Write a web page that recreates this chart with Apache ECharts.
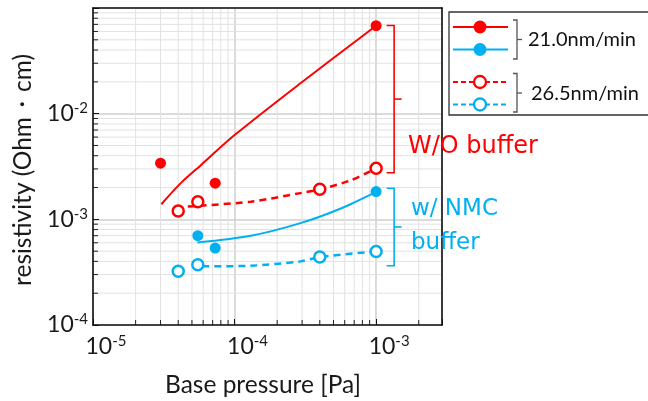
<!DOCTYPE html>
<html><head><meta charset="utf-8">
<script src="https://cdn.jsdelivr.net/npm/echarts@6/dist/echarts.min.js"></script>
<style>html,body{margin:0;padding:0;background:#fff}#c{width:648px;height:401px}</style>
</head><body><div id="c"></div>
<script>
// ---- tick labels / axis ranges ----
const xTicks = [1e-5, 1e-4, 1e-3];
const yTicks = [1e-4, 1e-3, 1e-2];
const xMinor = [2e-5,3e-5,4e-5,5e-5,6e-5,7e-5,8e-5,9e-5,2e-4,3e-4,4e-4,5e-4,6e-4,7e-4,8e-4,9e-4,2e-3];
const yMinor = [2e-4,3e-4,4e-4,5e-4,6e-4,7e-4,8e-4,9e-4,2e-3,3e-3,4e-3,5e-3,6e-3,7e-3,8e-3,9e-3,2e-2,3e-2,4e-2,5e-2,6e-2,7e-2,8e-2,9e-2];

// ---- measured points ----
const redFilledX  = [3.0e-5, 7.3e-5, 1.0e-3];
const redFilledY  = [3.4e-3, 2.2e-3, 6.8e-2];
const blueFilledX = [5.5e-5, 7.3e-5, 1.0e-3];
const blueFilledY = [7.0e-4, 5.35e-4, 1.83e-3];
const openX       = [4.0e-5, 5.5e-5, 4.0e-4, 1.0e-3];
const redOpenY    = [1.2e-3, 1.47e-3, 1.93e-3, 3.04e-3];
const blueOpenY   = [3.22e-4, 3.72e-4, 4.40e-4, 4.97e-4];

// ---- fitted curves ----
const redFitX  = [3.04e-5, 4.17e-5, 5.76e-5, 1.0e-4, 2.92e-4, 1.0e-3];
const redFitY  = [1.39e-3, 2.20e-3, 3.24e-3, 6.27e-3, 1.94e-2, 6.8e-2];
const redDashX = [4.67e-5, 1.30e-4, 2.92e-4, 4.0e-4, 6.56e-4, 1.0e-3];
const redDashY = [1.32e-3, 1.47e-3, 1.77e-3, 1.92e-3, 2.33e-3, 3.04e-3];
const blueFitX = [5.46e-5, 1.30e-4, 2.92e-4, 5.58e-4, 1.0e-3];
const blueFitY = [6.04e-4, 6.99e-4, 9.21e-4, 1.26e-3, 1.82e-3];
const blueDashX = [5.92e-5, 1.30e-4, 2.92e-4, 4.0e-4, 1.0e-3];
const blueDashY = [3.59e-4, 3.64e-4, 4.0e-4, 4.40e-4, 4.97e-4];

// ---- bracket ranges (data space) ----
const bracketX = 1.0e-3;
const redBracket  = [6.84e-2, 2.76e-3];
const blueBracket = [1.97e-3, 3.64e-4];

const RED = '#ff0000', BLUE = '#00b0f0';
const FONT = 'Lato';
const zip = (a, b) => a.map((v, i) => [v, b[i]]);

const chart = echarts.init(document.getElementById('c'), null, {renderer: 'canvas'});

function labelFmt(v) {
  const e = Math.round(Math.log10(v));
  return '{b|10}{s|' + e + '}';
}
const richLab = {
  b: {fontSize: 23, fontFamily: FONT, color: '#1a1a1a', lineHeight: 26},
  s: {fontSize: 15, fontFamily: FONT, color: '#1a1a1a', verticalAlign: 'top', lineHeight: 15}
};

function gridX(params, api) {
  const v = api.value(0);
  const p = api.coord([v, 1e-3]);
  const cs = params.coordSys;
  return {type: 'group', children: [
    {type: 'line', shape: {x1: p[0], y1: cs.y, x2: p[0], y2: cs.y + cs.height}, style: {stroke: '#e2e2e2', lineWidth: 1}},
    {type: 'line', shape: {x1: p[0], y1: cs.y + cs.height, x2: p[0], y2: cs.y + cs.height - 5}, style: {stroke: '#222', lineWidth: 1}}
  ]};
}
function gridY(params, api) {
  const v = api.value(1);
  const p = api.coord([1e-4, v]);
  const cs = params.coordSys;
  return {type: 'group', children: [
    {type: 'line', shape: {x1: cs.x, y1: p[1], x2: cs.x + cs.width, y2: p[1]}, style: {stroke: '#e2e2e2', lineWidth: 1}},
    {type: 'line', shape: {x1: cs.x, y1: p[1], x2: cs.x + 5, y2: p[1]}, style: {stroke: '#222', lineWidth: 1}}
  ]};
}
function bracket(color) {
  return function (params, api) {
    const top = api.coord([api.value(0), api.value(1)]);
    const bot = api.coord([api.value(0), api.value(2)]);
    const x = top[0] + 18;
    const mid = (top[1] + bot[1]) / 2;
    return {type: 'group', children: [
      {type: 'polyline', shape: {points: [[x - 7.5, top[1]], [x, top[1]], [x, bot[1]], [x - 7.5, bot[1]]]}, style: {stroke: color, lineWidth: 1.6, fill: null}},
      {type: 'line', shape: {x1: x, y1: mid, x2: x + 7.5, y2: mid}, style: {stroke: color, lineWidth: 1.6}}
    ]};
  };
}

const logAxisX = {
  type: 'log', logBase: 10, min: 1e-5, max: 2.92e-3, interval: 1,
  axisLine: {show: true, lineStyle: {color: '#111', width: 1.6}},
  axisTick: {show: true, inside: true, length: 6, lineStyle: {color: '#111'}},
  splitLine: {show: true, lineStyle: {color: '#cfcfcf', width: 1.5}},
  axisLabel: {formatter: labelFmt, rich: richLab, margin: 9, padding: [0, 0, 0, 26],
    customValues: xTicks}
};
const logAxisY = {
  type: 'log', logBase: 10, min: 1e-4, max: 1e-1, interval: 1,
  axisLine: {show: true, lineStyle: {color: '#111', width: 1.6}},
  axisTick: {show: true, inside: true, length: 6, lineStyle: {color: '#111'}},
  splitLine: {show: true, lineStyle: {color: '#cfcfcf', width: 1.5}},
  axisLabel: {formatter: labelFmt, rich: richLab, margin: 5, customValues: yTicks}
};

const option = {
  backgroundColor: '#fff',
  animation: false,
  grid: {left: 93, right: 206, top: 8, bottom: 76},
  xAxis: [logAxisX, {
    type: 'log', min: 1e-5, max: 2.92e-3, position: 'top',
    axisLine: {show: true, onZero: false, lineStyle: {color: '#111', width: 1.6}},
    axisTick: {show: false}, axisLabel: {show: false}, splitLine: {show: false}
  }],
  yAxis: [logAxisY, {
    type: 'log', min: 1e-4, max: 1e-1, position: 'right',
    axisLine: {show: true, onZero: false, lineStyle: {color: '#111', width: 1.6}},
    axisTick: {show: false}, axisLabel: {show: false}, splitLine: {show: false}
  }],
  graphic: [
    // axis titles
    {type: 'text', x: 23, y: 170, rotation: Math.PI / 2, z: 10,
      style: {text: 'resistivity (Ohm・cm)', fontSize: 24.5, fontFamily: FONT, fill: '#1a1a1a', align: 'center', verticalAlign: 'middle'}},
    {type: 'text', x: 263, y: 385, z: 10,
      style: {text: 'Base pressure [Pa]', fontSize: 24.5, fontFamily: FONT, fill: '#1a1a1a', align: 'center', verticalAlign: 'middle'}},
    // annotations
    {type: 'text', x: 408, y: 147, z: 10,
      style: {text: 'W/O buffer', fontSize: 24, fontFamily: 'DejaVu Sans', fill: RED, verticalAlign: 'middle'}},
    {type: 'text', x: 411, y: 209, z: 10,
      style: {text: 'w/ NMC', fontSize: 23, fontFamily: 'DejaVu Sans', fill: BLUE, verticalAlign: 'middle'}},
    {type: 'text', x: 411, y: 243, z: 10,
      style: {text: 'buffer', fontSize: 23, fontFamily: 'DejaVu Sans', fill: BLUE, verticalAlign: 'middle'}},
    // legend box
    {type: 'rect', z: 10, shape: {x: 449, y: 12, width: 220, height: 103}, style: {fill: '#fff', stroke: '#333', lineWidth: 1.3}},
    {type: 'line', z: 11, shape: {x1: 453, y1: 27, x2: 508, y2: 27}, style: {stroke: RED, lineWidth: 2}},
    {type: 'circle', z: 12, shape: {cx: 480, cy: 27, r: 6.5}, style: {fill: RED}},
    {type: 'line', z: 11, shape: {x1: 453, y1: 49.5, x2: 508, y2: 49.5}, style: {stroke: BLUE, lineWidth: 2}},
    {type: 'circle', z: 12, shape: {cx: 480, cy: 49.5, r: 6.5}, style: {fill: BLUE}},
    {type: 'polyline', z: 11, shape: {points: [[513, 20], [517, 20], [517, 59], [513, 59]]}, style: {stroke: '#555', lineWidth: 1.3, fill: null}},
    {type: 'line', z: 11, shape: {x1: 517, y1: 39.5, x2: 522, y2: 39.5}, style: {stroke: '#555', lineWidth: 1.3}},
    {type: 'text', z: 11, x: 528, y: 40, style: {text: '21.0nm/min', fontSize: 20, fontFamily: FONT, fill: '#111', verticalAlign: 'middle'}},
    {type: 'line', z: 11, shape: {x1: 453, y1: 82, x2: 508, y2: 82}, style: {stroke: RED, lineWidth: 2, lineDash: [5, 3]}},
    {type: 'circle', z: 12, shape: {cx: 480, cy: 82, r: 6}, style: {fill: '#fff', stroke: RED, lineWidth: 2.3}},
    {type: 'line', z: 11, shape: {x1: 453, y1: 104.5, x2: 508, y2: 104.5}, style: {stroke: BLUE, lineWidth: 2, lineDash: [5, 3]}},
    {type: 'circle', z: 12, shape: {cx: 480, cy: 104.5, r: 6}, style: {fill: '#fff', stroke: BLUE, lineWidth: 2.3}},
    {type: 'polyline', z: 11, shape: {points: [[513, 73.5], [517, 73.5], [517, 112], [513, 112]]}, style: {stroke: '#555', lineWidth: 1.3, fill: null}},
    {type: 'line', z: 11, shape: {x1: 517, y1: 93, x2: 522, y2: 93}, style: {stroke: '#555', lineWidth: 1.3}},
    {type: 'text', z: 11, x: 531, y: 94, style: {text: '26.5nm/min', fontSize: 20, fontFamily: FONT, fill: '#111', verticalAlign: 'middle'}}
  ],
  series: [
    {type: 'custom', name: 'xgrid', renderItem: gridX, data: xMinor.map(v => [v, 1e-3]), z: 0, silent: true, clip: false},
    {type: 'custom', name: 'ygrid', renderItem: gridY, data: yMinor.map(v => [1e-4, v]), z: 0, silent: true, clip: false},
    {type: 'line', data: zip(redFitX, redFitY), smooth: 0.3, showSymbol: false, lineStyle: {color: RED, width: 2}, z: 3},
    {type: 'line', data: zip(redDashX, redDashY), smooth: 0.3, showSymbol: false, lineStyle: {color: RED, width: 2.5, type: [7, 5]}, z: 3},
    {type: 'line', data: zip(blueFitX, blueFitY), smooth: 0.3, showSymbol: false, lineStyle: {color: BLUE, width: 2}, z: 3},
    {type: 'line', data: zip(blueDashX, blueDashY), smooth: 0.3, showSymbol: false, lineStyle: {color: BLUE, width: 2.5, type: [7, 5]}, z: 3},
    {type: 'scatter', data: zip(redFilledX, redFilledY), symbolSize: 11, itemStyle: {color: RED, opacity: 1}, z: 4},
    {type: 'scatter', data: zip(blueFilledX, blueFilledY), symbolSize: 11, itemStyle: {color: BLUE, opacity: 1}, z: 4},
    {type: 'scatter', data: zip(openX, redOpenY), symbolSize: 11, itemStyle: {color: '#fff', borderColor: RED, borderWidth: 2.5, opacity: 1}, z: 4},
    {type: 'scatter', data: zip(openX, blueOpenY), symbolSize: 11, itemStyle: {color: '#fff', borderColor: BLUE, borderWidth: 2.5, opacity: 1}, z: 4},
    {type: 'custom', renderItem: bracket(RED), data: [[bracketX, redBracket[0], redBracket[1]]], encode: {x: 0, y: [1, 2]}, clip: false, silent: true, z: 5},
    {type: 'custom', renderItem: bracket(BLUE), data: [[bracketX, blueBracket[0], blueBracket[1]]], encode: {x: 0, y: [1, 2]}, clip: false, silent: true, z: 5}
  ]
};
chart.setOption(option);
</script>
</body></html>
